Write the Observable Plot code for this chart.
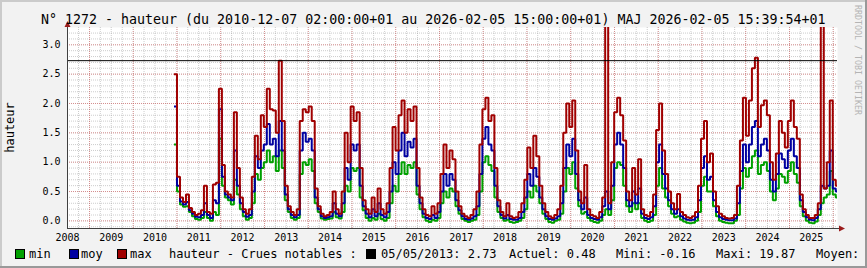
<!DOCTYPE html>
<html><head><meta charset="utf-8">
<script src="https://cdn.jsdelivr.net/npm/d3@7"></script>
<script src="https://cdn.jsdelivr.net/npm/@observablehq/plot@0.6"></script>
<style>
html,body{margin:0;padding:0;background:#f2f2f2;}
#wrap{position:relative;width:867px;height:268px;overflow:hidden;background:#f2f2f2;}
#wrap svg{position:absolute;left:0;top:0;}
</style></head><body><div id="wrap"></div>
<script>
// ---- data (sample every 25 days from 2010-12-07) ----
const startDate = "2010-12-07T01:00:00Z";
const stepDays = 25;
const maxVals = [
 2.5,0.75,0.4,0.32,0.45,0.22,0.15,0.1,0.12,0.18,0.6,0.15,0.12,0.62,0.65,2.25,
 0.95,0.5,0.45,0.4,1.85,0.9,0.4,0.2,0.12,0.2,0.75,1.45,1.05,1.8,1.6,2.25,
 1.9,1.88,1.5,2.73,1.7,0.6,0.25,0.15,0.1,0.2,1.7,1.9,1.85,1.95,1.7,0.55,
 0.25,0.12,0.08,0.1,0.15,0.5,0.2,0.12,0.5,1.5,1.0,1.95,1.7,1.85,0.9,0.35,
 0.2,0.12,0.4,0.15,0.55,0.2,0.12,0.3,0.9,1.6,1.2,1.8,2.05,1.5,1.9,1.7,
 1.95,0.9,0.4,0.2,0.1,0.08,0.25,0.12,0.3,0.8,1.3,0.9,1.2,1.05,0.5,0.25,
 0.12,0.08,0.05,0.1,0.2,0.5,1.3,1.9,2.1,1.7,1.8,0.9,0.35,0.15,0.08,0.3,
 0.08,0.05,0.06,0.15,0.3,0.7,1.25,0.9,1.45,1.1,0.6,0.3,0.15,0.08,0.05,0.1,
 0.2,0.6,1.5,2.0,1.6,2.05,1.2,0.5,0.3,0.95,0.2,0.1,0.08,0.05,0.15,0.4,
 3.5,0.3,1.0,1.85,2.1,1.8,1.37,0.5,0.35,0.9,0.45,1.05,0.2,0.1,0.08,0.15,
 0.45,1.55,2.0,1.2,0.8,0.5,0.3,0.2,0.46,0.15,0.1,0.06,0.05,0.08,0.15,0.6,
 1.4,1.7,1.0,1.15,0.5,0.25,0.12,0.08,0.05,0.04,0.05,0.1,0.6,1.37,2.1,1.45,
 2.05,2.6,2.78,1.6,1.97,2.05,1.8,1.0,0.7,1.15,1.7,1.5,1.25,1.7,2.05,1.6,
 1.4,0.45,0.2,0.1,0.05,0.05,0.1,0.3,3.5,0.55,1.0,2.05,0.7,0.6,0.55
];
const moyVals = [
 1.95,0.6,0.33,0.28,0.32,0.18,0.12,0.07,0.06,0.1,0.3,0.1,0.05,0.35,0.3,1.9,
 0.75,0.45,0.4,0.35,1.2,0.6,0.3,0.15,0.07,0.1,0.5,1.1,0.9,1.2,1.3,1.65,
 1.3,1.4,1.1,1.7,1.2,0.45,0.2,0.1,0.06,0.1,1.2,1.5,1.35,1.4,1.2,0.4,
 0.2,0.08,0.05,0.06,0.08,0.3,0.12,0.08,0.3,0.9,0.7,1.3,1.2,1.3,0.6,0.25,
 0.12,0.06,0.2,0.08,0.3,0.1,0.06,0.15,0.5,1.0,0.8,1.2,1.5,1.1,1.35,1.25,
 1.4,0.6,0.3,0.12,0.05,0.03,0.1,0.05,0.15,0.5,0.8,0.6,0.8,0.7,0.35,0.18,
 0.08,0.03,0.02,0.04,0.08,0.25,0.8,1.4,1.6,1.3,1.2,0.6,0.25,0.1,0.04,0.1,
 0.03,0.02,0.02,0.05,0.15,0.4,0.8,0.6,0.9,0.75,0.4,0.2,0.08,0.03,0.02,0.04,
 0.08,0.3,0.9,1.3,1.1,1.4,0.8,0.35,0.2,0.4,0.1,0.05,0.03,0.02,0.06,0.25,
 0.5,0.2,0.6,1.3,1.5,1.3,0.9,0.35,0.25,0.5,0.3,0.55,0.12,0.05,0.03,0.06,
 0.25,1.0,1.3,0.8,0.55,0.35,0.2,0.12,0.2,0.08,0.04,0.02,0.01,0.02,0.06,0.35,
 0.9,1.1,0.7,0.75,0.35,0.15,0.06,0.03,0.02,0.01,0.01,0.04,0.3,0.85,1.3,1.0,
 1.3,1.6,1.7,1.1,1.3,1.4,1.2,0.7,0.5,0.8,1.15,1.05,0.9,1.2,1.4,1.1,
 0.9,0.35,0.15,0.06,0.02,0.01,0.05,0.2,0.6,0.55,0.6,1.2,0.55,0.5,0.48
];
const minVals = [
 1.3,0.5,0.28,0.24,0.25,0.15,0.08,0.03,0.02,0.05,0.15,0.05,0.0,0.15,0.1,1.4,
 0.6,0.4,0.35,0.28,0.7,0.45,0.2,0.08,0.02,0.05,0.3,0.8,0.7,0.9,1.0,1.2,
 1.0,1.1,0.85,1.2,0.9,0.35,0.15,0.05,0.02,0.05,0.8,1.0,0.95,1.05,0.85,0.3,
 0.15,0.04,0.02,0.03,0.04,0.15,0.06,0.04,0.15,0.6,0.5,0.9,0.85,0.9,0.4,0.18,
 0.05,0.0,0.05,0.02,0.12,0.03,0.0,0.05,0.3,0.6,0.5,0.8,1.0,0.8,0.95,0.9,
 1.0,0.45,0.2,0.06,0.0,-0.02,0.02,0.0,0.05,0.3,0.5,0.4,0.55,0.5,0.25,0.12,
 0.03,0.0,-0.02,0.0,0.02,0.1,0.5,1.0,1.1,0.95,0.85,0.4,0.15,0.05,0.0,0.02,
 -0.02,-0.03,-0.02,0.0,0.05,0.2,0.5,0.4,0.6,0.5,0.3,0.12,0.03,-0.02,-0.03,0.0,
 0.02,0.12,0.5,0.9,0.8,1.0,0.55,0.25,0.12,0.15,0.05,0.0,-0.02,-0.03,0.0,0.1,
 0.2,0.1,0.35,0.9,1.0,0.95,0.6,0.25,0.15,0.3,0.2,0.3,0.05,0.0,-0.02,0.0,
 0.1,0.6,0.9,0.55,0.4,0.25,0.12,0.06,0.08,0.02,-0.01,-0.03,-0.04,-0.03,0.0,0.15,
 0.6,0.75,0.5,0.5,0.25,0.08,0.0,-0.02,-0.03,-0.04,-0.04,0.0,0.1,0.55,0.9,0.75,
 0.9,1.1,1.2,0.8,0.95,1.0,0.85,0.5,0.35,0.55,0.8,0.75,0.65,0.85,1.0,0.8,
 0.65,0.25,0.08,0.0,-0.03,-0.04,-0.01,0.1,0.3,0.4,0.45,0.85,0.45,0.4,0.42
];
const yTickValues = [0, 0.5, 1, 1.5, 2, 2.5, 3];
const yearLabels = [2008,2009,2010,2011,2012,2013,2014,2015,2016,2017,2018,2019,2020,2021,2022,2023,2024,2025];
const crueDate = "05/05/2013";
const crueValue = 2.73;
const stats = {actuel: "0.48", mini: "-0.16", maxi: "19.87"};
const titleText = "N° 1272 - hauteur (du 2010-12-07 02:00:00+01 au 2026-02-05 15:00:00+01) MAJ 2026-02-05 15:39:54+01";

// ---- build ----
const t0 = new Date(startDate).getTime();
const toRows = vals => vals.map((v, i) => ({date: new Date(t0 + i * stepDays * 864e5), v}));
const xDomain = [new Date(Date.UTC(2008, 6, 1)), new Date(Date.UTC(2026, 1, 5, 14))];
const yDomain = [-0.13, 3.295];
const minorY = d3.range(-1, 33).map(k => k / 10);
const quarters = d3.utcMonth.every(3).range(xDomain[0], xDomain[1]);
const jan1 = d3.utcYear.range(xDomain[0], xDomain[1]);
const labelDates = yearLabels.map(y => new Date(Date.UTC(y, 6, 1, 12)));
const FONT = "'DejaVu Sans Mono', monospace";
const M = {left: 67, right: 30, top: 27, bottom: 40};
const lineOpts = {x: "date", y: "v", strokeWidth: 2, curve: "step-after", clip: true, strokeLinejoin: "miter", strokeLinecap: "butt"};

const chart = Plot.plot({
  width: 867, height: 268,
  marginLeft: M.left, marginRight: M.right, marginTop: M.top, marginBottom: M.bottom,
  x: {type: "utc", domain: xDomain},
  y: {domain: yDomain},
  style: {background: "transparent", fontFamily: FONT, fontSize: "10px", color: "#000", overflow: "visible"},
  marks: [
    Plot.frame({fill: "#ffffff", stroke: null}),
    Plot.ruleY(minorY, {stroke: "#8f8f8f", strokeOpacity: 0.45, strokeDasharray: "1,1"}),
    Plot.ruleX(quarters, {stroke: "#8f8f8f", strokeOpacity: 0.45, strokeDasharray: "1,1"}),
    Plot.ruleY(yTickValues, {stroke: "#de5050", strokeOpacity: 0.5, strokeDasharray: "1,1"}),
    Plot.ruleX(jan1, {stroke: "#de5050", strokeOpacity: 0.5, strokeDasharray: "1,1"}),
    Plot.line(toRows(minVals), {...lineOpts, stroke: "#00a000"}),
    Plot.line(toRows(moyVals), {...lineOpts, stroke: "#0000a0"}),
    Plot.line(toRows(maxVals), {...lineOpts, stroke: "#a00000"}),
    Plot.ruleY([crueValue], {stroke: "#000", strokeWidth: 1}),
    Plot.ruleX([xDomain[0]], {stroke: "#404040"}),
    Plot.ruleY([yDomain[0]], {stroke: "#404040"}),
    Plot.axisY(yTickValues, {tickSize: 0, tickPadding: 7, tickFormat: d => d.toFixed(1), label: null, fill: "#000"}),
    Plot.axisX(labelDates, {tickSize: 0, tickPadding: 5, tickFormat: d => String(d.getUTCFullYear()), label: null, fill: "#000"})
  ]
});
const wrap = document.getElementById("wrap");
wrap.appendChild(chart);

// ---- overlay: frame, title, labels, legend ----
const W = 867, H = 268;
const ov = d3.create("svg").attr("width", W).attr("height", H).attr("font-family", FONT);
ov.append("rect").attr("x", 0).attr("y", 0).attr("width", W).attr("height", 2).attr("fill", "#cbcbcb");
ov.append("rect").attr("x", 0).attr("y", 0).attr("width", 2).attr("height", H).attr("fill", "#cbcbcb");
ov.append("rect").attr("x", 0).attr("y", H - 2).attr("width", W).attr("height", 2).attr("fill", "#999");
ov.append("rect").attr("x", W - 2).attr("y", 0).attr("width", 2).attr("height", H).attr("fill", "#999");
// axis extensions and arrows
const xl = M.left + 0.5, yb = H - M.bottom + 0.5;
ov.append("line").attr("x1", xl).attr("x2", xl).attr("y1", M.top).attr("y2", 23).attr("stroke", "#404040");
ov.append("line").attr("x1", W - M.right).attr("x2", 840).attr("y1", yb).attr("y2", yb).attr("stroke", "#404040");
ov.append("path").attr("d", `M${xl - 3},${M.top} L${xl + 3},${M.top} L${xl},${M.top - 6} Z`).attr("fill", "#9b1c1c");
ov.append("path").attr("d", `M839,${yb - 3} L839,${yb + 3} L845,${yb} Z`).attr("fill", "#9b1c1c");
// title
ov.append("text").attr("x", 41).attr("y", 24).attr("font-size", "13.3px").attr("fill", "#000").text(titleText);
// y label
ov.append("text").attr("transform", `translate(14,${(M.top + H - M.bottom) / 2}) rotate(-90)`)
  .attr("text-anchor", "middle").attr("font-size", "12px").attr("fill", "#000").text("hauteur");
// watermark
ov.append("text").attr("transform", "translate(855,5) rotate(90)").attr("font-size", "8.3px").attr("fill", "#b4b4b4")
  .text("RRDTOOL / TOBI OETIKER");
// legend
const legY = 258;
const boxes = [
  {x: 15, color: "#00a000", label: "min", tx: 29},
  {x: 69, color: "#0000a0", label: "moy", tx: 81},
  {x: 117, color: "#a00000", label: "max", tx: 130}
];
for (const b of boxes) {
  ov.append("rect").attr("x", b.x + 0.5).attr("y", 249.5).attr("width", 9).attr("height", 9).attr("fill", b.color).attr("stroke", "#000");
  ov.append("text").attr("x", b.tx).attr("y", legY).attr("font-size", "12px").attr("fill", "#000").text(b.label);
}
ov.append("text").attr("x", 169).attr("y", legY).attr("font-size", "12px").text("hauteur - Crues notables :");
ov.append("rect").attr("x", 366.5).attr("y", 249.5).attr("width", 9).attr("height", 9).attr("fill", "#000").attr("stroke", "#000");
ov.append("text").attr("x", 381).attr("y", legY).attr("font-size", "12px").text(`${crueDate}: ${crueValue.toFixed(2)}`);
ov.append("text").attr("x", 509).attr("y", legY).attr("font-size", "12px").text(`Actuel: ${stats.actuel}`);
ov.append("text").attr("x", 616).attr("y", legY).attr("font-size", "12px").text(`Mini: ${stats.mini}`);
ov.append("text").attr("x", 716).attr("y", legY).attr("font-size", "12px").text(`Maxi: ${stats.maxi}`);
ov.append("text").attr("x", 816).attr("y", legY).attr("font-size", "12px").text("Moyen:");
wrap.appendChild(ov.node());
</script></body></html>
